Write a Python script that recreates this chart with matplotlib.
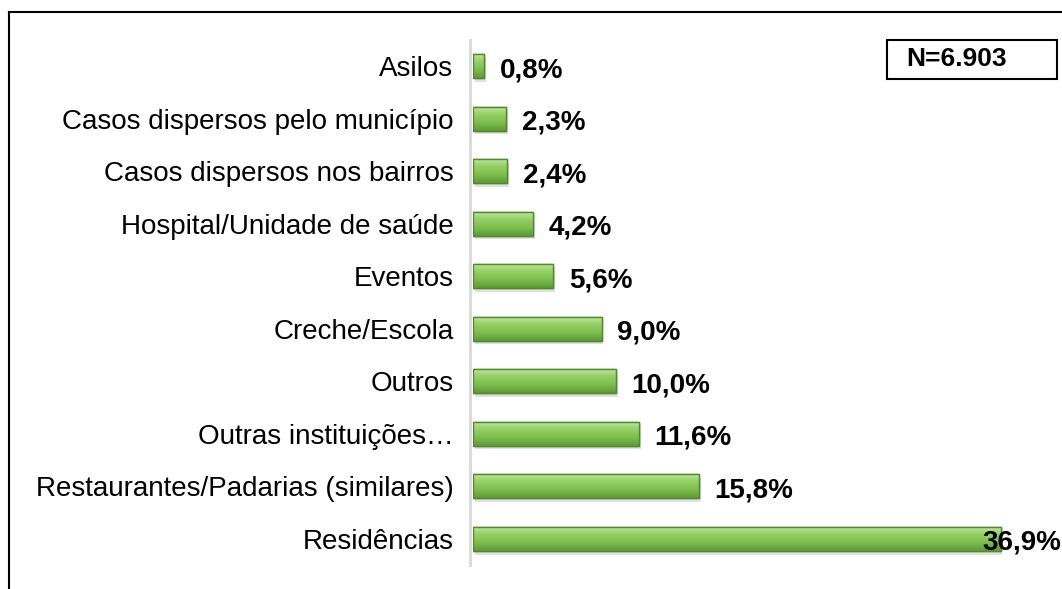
import matplotlib.pyplot as plt
import numpy as np
from matplotlib.lines import Line2D
from matplotlib.patches import Rectangle

plt.rcParams['font.family'] = ['Liberation Sans', 'DejaVu Sans']

# categories listed top to bottom as in the chart
categorias = ['Asilos', 'Casos dispersos pelo município', 'Casos dispersos nos bairros',
              'Hospital/Unidade de saúde', 'Eventos', 'Creche/Escola', 'Outros',
              'Outras instituições…', 'Restaurantes/Padarias (similares)', 'Residências']
valores = [0.8, 2.3, 2.4, 4.2, 5.6, 9.0, 10.0, 11.6, 15.8, 36.9]
rotulos = ['0,8%', '2,3%', '2,4%', '4,2%', '5,6%', '9,0%', '10,0%', '11,6%', '15,8%', '36,9%']
total = 'N=6.903'

W, H = 1062, 589
fig = plt.figure(figsize=(W / 100, H / 100), dpi=100)
ax = fig.add_axes([473 / W, 1 - 565 / H, 1 - 473 / W, 525 / H])

y = np.arange(len(categorias))
xmax = 41.2
fs = 20

# green gradient for the bars (light top, darker bottom)
grad = np.linspace(0, 1, 64).reshape(-1, 1)
cmap = plt.matplotlib.colors.LinearSegmentedColormap.from_list(
    'verde', ['#c2e6a2', '#94d064', '#7cbd4c', '#5f9a37'])

# soft shadow under each bar
ax.barh(y + 0.07, valores, height=0.46, left=0.12, color='#000000', alpha=0.12, zorder=1)
bars = ax.barh(y, valores, height=0.46, color='#8cc85f', edgecolor='#4f8a2c',
               linewidth=1.0, zorder=2)
for b in bars:
    x0, y0 = b.get_x(), b.get_y()
    im = ax.imshow(grad, cmap=cmap, aspect='auto', zorder=2.5,
                   extent=[x0, x0 + b.get_width(), y0 + b.get_height(), y0])
    im.set_clip_path(b)
    ax.barh(b.get_y() + b.get_height() / 2, b.get_width(), height=b.get_height(),
            fill=False, edgecolor='#4f8a2c', linewidth=1.0, zorder=3)

for i, (v, t) in enumerate(zip(valores, rotulos)):
    if v == max(valores):
        # no room on the right: sits over the bar end
        ax.text(xmax - 0.05, i + 0.08, t, ha='right', va='center', fontsize=fs,
                fontweight='bold', zorder=5)
    else:
        ax.text(v + 1.1, i + 0.08, t, ha='left', va='center', fontsize=fs,
                fontweight='bold', zorder=5)

ax.set_xlim(0, xmax)
ax.set_ylim(len(categorias) - 0.5, -0.5)
ax.set_yticks(y)
ax.set_yticklabels(categorias)
ax.tick_params(axis='y', length=0, pad=12, labelsize=fs)
ax.set_xticks([])
for s in ['top', 'right', 'bottom']:
    ax.spines[s].set_visible(False)
ax.spines['left'].set_color('#d9d9d9')
ax.spines['left'].set_linewidth(2)
ax.spines['left'].set_position(('data', -0.2))

# N box
fig.add_artist(Rectangle((887 / W, 1 - 79 / H), 170 / W, 39 / H, transform=fig.transFigure,
                         fill=False, edgecolor='black', linewidth=1.5))
fig.text(906 / W, 1 - 59 / H, total, ha='left', va='center', fontsize=19,
         fontweight='bold')

# outer frame (partly cut off)
fig.add_artist(Line2D([9 / W, 9 / W], [0, 1 - 12 / H], color='black', linewidth=1.5))
fig.add_artist(Line2D([9 / W, 1], [1 - 12 / H, 1 - 12 / H], color='black', linewidth=1.5))

fig.savefig('out.png', dpi=100)
